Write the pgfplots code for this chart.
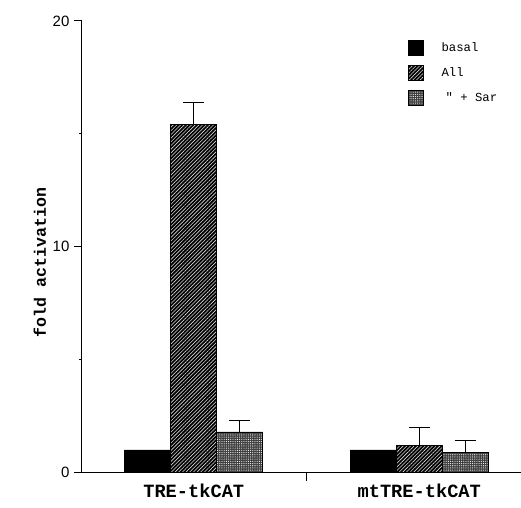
\documentclass[border=0pt]{standalone}
\usepackage{fontspec}
\setmainfont{Liberation Sans}
\setmonofont{Liberation Mono}
\usepackage{pgfplots}
\pgfplotsset{compat=1.18}
\usetikzlibrary{patterns,patterns.meta}
\begin{document}
\begin{tikzpicture}
\begin{axis}[name=ax, scale only axis, width=439pt, height=452pt,
  xmin=-0.496, xmax=1.449, ymin=0, ymax=20,
  axis lines=left, axis line style={-, line width=1pt},
  ytick={0,10,20}, minor ytick={5,15},
  tick align=outside, ytick pos=left,
  major tick length=8pt, minor tick length=3pt,
  every tick/.style={line width=1pt, black},
  yticklabel style={font=\fontsize{15}{15}\selectfont, xshift=-1pt},
  /pgf/number format/assume math mode=true,
  xtick={0.5}, xticklabels={},
  extra x ticks={0,1},
  extra x tick labels={TRE-tkCAT, mtTRE-tkCAT},
  extra x tick style={major tick length=0pt, tick label style={font=\fontsize{18.7}{19}\ttfamily\bfseries, yshift=-8pt}},
  ylabel={fold activation},
  ylabel style={font=\fontsize{16.6}{17}\ttfamily\bfseries, at={(axis description cs:-0.0957,0.465)}, anchor=center},
  ybar, bar width=46pt,
  legend style={at={(axis description cs:0.7426,0.958)}, anchor=north west, draw=none, fill=none, inner sep=0pt, row sep=9pt, font=\fontsize{12.3}{13}\ttfamily, legend cell align=left,
    /tikz/every odd column/.append style={column sep=16pt}},
  legend image code/.code={\draw[#1] (0pt,-7.5pt) rectangle (15pt,7.5pt);},
  error bars/y dir=plus, error bars/y explicit,
  error bars/error bar style={line width=1pt, black},
  error bars/error mark options={rotate=90, mark size=10.5pt, line width=1pt, black},
]
\addplot[bar shift=-46pt, fill=black, draw=black, line width=0.8pt]
  coordinates {(0,1.0) (1,1.0)};
\addlegendentry{basal}
\addplot[bar shift=0pt, fill=black, draw=black, line width=0.8pt,
  postaction={pattern={Lines[angle=45,distance=2.6pt,line width=0.6pt]}, pattern color=white!85!black}]
  coordinates {(0,15.4) +- (0,1.0) (1,1.2) +- (0,0.8)};
\addlegendentry{All}
\addplot[bar shift=46pt, fill=black!75, draw=black, line width=0.8pt,
  postaction={pattern={Dots[distance=2.2pt,radius=0.55pt]}, pattern color=white}]
  coordinates {(0,1.8) +- (0,0.5) (1,0.9) +- (0,0.5)};
\addlegendentry{\hspace{4pt}" + Sar}
\end{axis}
\path (ax.south west) ++(-82pt,-35pt);
\path (ax.north east) ++(0pt,21pt);
\end{tikzpicture}
\end{document}
